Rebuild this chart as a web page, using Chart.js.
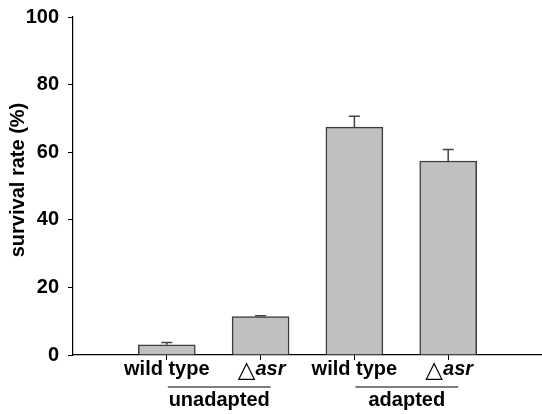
<!DOCTYPE html>
<html>
<head>
<meta charset="utf-8">
<script src="https://cdn.jsdelivr.net/npm/chart.js@4/dist/chart.umd.min.js"></script>
<style>
  html, body { margin: 0; padding: 0; background: #ffffff; }
  #wrap { width: 542px; height: 414px; }
</style>
</head>
<body>
<div id="wrap"><canvas id="c" width="542" height="414"></canvas></div>
<script>
// Survival rate per strain, before and after adaptation
const categories = ['wild type', '\u25B3asr', 'wild type', '\u25B3asr'];
const survival = [3.0, 11.4, 67.4, 57.4];
const survivalErr = [0.7, 0.2, 3.2, 3.4];
const groups = ['unadapted', 'adapted'];
const groupMembers = [[0, 1], [2, 3]];
const yTicks = [0, 20, 40, 60, 80, 100];
const yTitle = 'survival rate (%)';

const FONT = '"Liberation Sans", Arial, Helvetica, sans-serif';
const positions = categories.map((_, i) => i + 1);

// Upward error bars with a short cap
const errorBars = {
  id: 'errorBars',
  afterDatasetsDraw(chart) {
    const ctx = chart.ctx;
    const y = chart.scales.y;
    const meta = chart.getDatasetMeta(0);
    ctx.save();
    ctx.strokeStyle = '#444444';
    ctx.lineWidth = 1.5;
    meta.data.forEach((bar, i) => {
      const top = y.getPixelForValue(survival[i] + survivalErr[i]);
      const base = y.getPixelForValue(survival[i]);
      ctx.beginPath();
      ctx.moveTo(bar.x, base);
      ctx.lineTo(bar.x, top);
      ctx.moveTo(bar.x - 5.5, top);
      ctx.lineTo(bar.x + 5.5, top);
      ctx.stroke();
    });
    ctx.restore();
  }
};

// Category labels (strain names, mutant name in italics), group labels, y title
const axisText = {
  id: 'axisText',
  afterDraw(chart) {
    const ctx = chart.ctx;
    const x = chart.scales.x;
    const area = chart.chartArea;
    const base = area.bottom;
    ctx.save();
    ctx.fillStyle = '#000000';
    ctx.textBaseline = 'alphabetic';
    categories.forEach((label, i) => {
      const cx = x.getPixelForValue(positions[i]);
      const ly = base + 20;
      if (label.startsWith('\u25B3')) {
        const sym = '\u25B3';
        const rest = label.slice(1);
        ctx.font = '23px "DejaVu Sans", ' + FONT;
        const w1 = ctx.measureText(sym).width;
        ctx.font = 'italic bold 20px ' + FONT;
        const w2 = ctx.measureText(rest).width;
        const sx = cx - (w1 + w2) / 2 + 1;
        ctx.textAlign = 'left';
        ctx.font = '23px "DejaVu Sans", ' + FONT;
        ctx.fillText(sym, sx, ly + 2);
        ctx.font = 'italic bold 20px ' + FONT;
        ctx.fillText(rest, sx + w1, ly);
      } else {
        ctx.font = 'bold 20px ' + FONT;
        ctx.textAlign = 'center';
        ctx.fillText(label, cx, ly);
      }
    });
    groups.forEach((name, g) => {
      const [a, b] = groupMembers[g];
      const x0 = x.getPixelForValue(positions[a]) + 1;
      const x1 = x.getPixelForValue(positions[b]) + 10;
      ctx.strokeStyle = '#000000';
      ctx.lineWidth = 1.2;
      ctx.beginPath();
      ctx.moveTo(x0, base + 32);
      ctx.lineTo(x1, base + 32);
      ctx.stroke();
      ctx.font = 'bold 20px ' + FONT;
      ctx.textAlign = 'center';
      ctx.fillText(name, (x0 + x1) / 2, base + 51);
    });
    // rotated y-axis title
    ctx.translate(18, (area.top + area.bottom) / 2 - 6);
    ctx.rotate(-Math.PI / 2);
    ctx.font = 'bold 20px ' + FONT;
    ctx.textAlign = 'center';
    ctx.textBaseline = 'middle';
    ctx.fillText(yTitle, 0, 0);
    ctx.restore();
  }
};

new Chart(document.getElementById('c'), {
  type: 'bar',
  data: {
    datasets: [{
      data: positions.map((p, i) => ({ x: p, y: survival[i] })),
      backgroundColor: '#c0c0c0',
      borderColor: '#3c3c3c',
      borderWidth: 1.5,
      borderSkipped: 'bottom',
      barThickness: 57
    }]
  },
  options: {
    responsive: false,
    animation: false,
    devicePixelRatio: 1,
    layout: { padding: { top: 17, right: 0, bottom: 0, left: 0 } },
    plugins: { legend: { display: false }, tooltip: { enabled: false } },
    scales: {
      x: {
        type: 'linear',
        min: 0,
        max: 5,
        offset: false,
        afterBuildTicks(scale) { scale.ticks = positions.map(v => ({ value: v })); },
        afterFit(scale) { scale.height = 59; scale.paddingLeft = 0; scale.paddingRight = 0; },
        ticks: { display: false },
        grid: { offset: false, drawOnChartArea: false, drawTicks: true, tickLength: 5, color: '#000000', lineWidth: 1 },
        border: { display: true, color: '#000000', width: 1.2 }
      },
      y: {
        min: 0,
        max: 100,
        afterBuildTicks(scale) { scale.ticks = yTicks.map(v => ({ value: v })); },
        afterFit(scale) { scale.width = 73; scale.paddingTop = 0; scale.paddingBottom = 0; },
        ticks: {
          padding: 9,
          color: '#000000',
          font: { family: FONT, size: 20, weight: 'bold' }
        },
        grid: { drawOnChartArea: false, drawTicks: true, tickLength: 5, color: '#000000', lineWidth: 1 },
        border: { display: true, color: '#000000', width: 1.2 }
      }
    }
  },
  plugins: [errorBars, axisText]
});
</script>
</body>
</html>
